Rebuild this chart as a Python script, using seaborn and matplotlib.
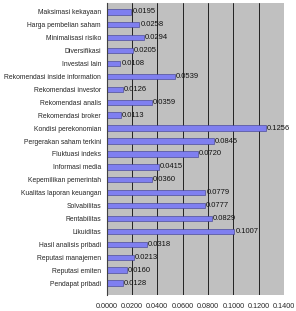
import matplotlib
matplotlib.use("Agg")
import matplotlib.pyplot as plt
import matplotlib.transforms as mtransforms
import seaborn as sns
import pandas as pd

categories = [
    "Maksimasi kekayaan", "Harga pembelian saham", "Minimalisasi risiko",
    "Diversifikasi", "Investasi lain", "Rekomendasi inside information",
    "Rekomendasi investor", "Rekomendasi analis", "Rekomendasi broker",
    "Kondisi perekonomian", "Pergerakan saham terkini", "Fluktuasi indeks",
    "Informasi media", "Kepemilikan pemerintah", "Kualitas laporan keuangan",
    "Solvabilitas", "Rentabilitas", "Likuiditas", "Hasil analisis pribadi",
    "Reputasi manajemen", "Reputasi emiten", "Pendapat pribadi",
]
values = [
    0.0195, 0.0258, 0.0294, 0.0205, 0.0108, 0.0539, 0.0126, 0.0359, 0.0113,
    0.1256, 0.0845, 0.0720, 0.0415, 0.0360, 0.0779, 0.0777, 0.0829, 0.1007,
    0.0318, 0.0213, 0.0160, 0.0128,
]
x_ticks = [0.0, 0.02, 0.04, 0.06, 0.08, 0.10, 0.12, 0.14]

df = pd.DataFrame({"cat": categories, "val": values})

sns.set_style("white")
plt.rcParams["font.family"] = ["Liberation Sans", "DejaVu Sans"]

fig = plt.figure(figsize=(2.96, 3.11), dpi=100)
ax = fig.add_axes([0.36, 0.051, 0.60, 0.94])
ax.set_facecolor("#c0c0c0")

sns.barplot(data=df, y="cat", x="val", orient="h", color="#7f7ff0",
            width=0.42, edgecolor="#3a3a8a", linewidth=0.4, saturation=1, ax=ax)

for i, v in enumerate(values):
    ax.text(v + 0.0008, i, f"{v:.4f}", va="center", ha="left", fontsize=5.5,
            color="#111111")

ax.set_xlim(0, 0.14)
ax.set_ylim(21.93, -0.7)
ax.set_xticks(x_ticks)
ax.set_xticklabels([f"{t:.4f}" for t in x_ticks], fontsize=5.2)
offset = mtransforms.ScaledTranslation(-4 / 100, 0, fig.dpi_scale_trans)
for lbl in ax.get_xticklabels():
    lbl.set_transform(lbl.get_transform() + offset)
ax.tick_params(axis="y", labelsize=4.9, length=2, width=0.5, pad=2)
ax.tick_params(axis="x", length=0, pad=6)
ax.grid(axis="x", color="#222222", linewidth=0.7)
ax.set_axisbelow(True)
ax.set_xlabel("")
ax.set_ylabel("")
for s in ["top", "right", "bottom"]:
    ax.spines[s].set_visible(False)
ax.spines["left"].set_color("#404040")
ax.spines["left"].set_linewidth(0.8)

fig.savefig("out.png", dpi=100)
